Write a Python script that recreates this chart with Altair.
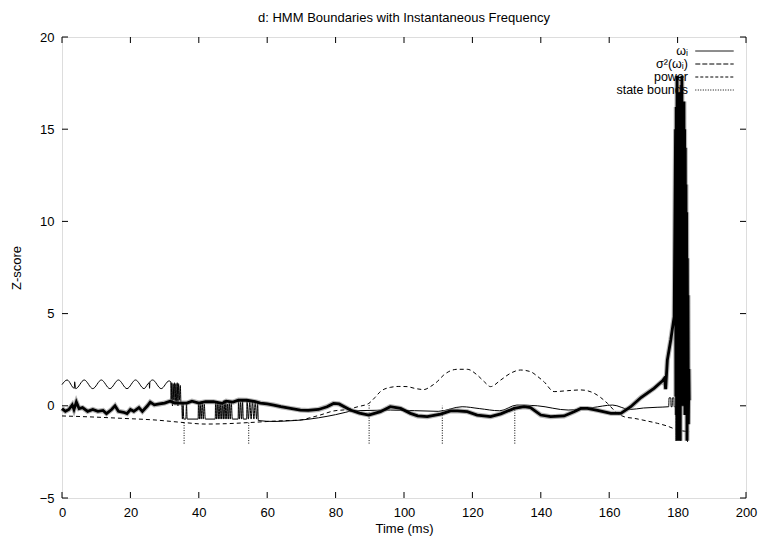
import altair as alt
import pandas as pd

# ---------------- data ----------------
# thick noisy curve, time in ms, z-score
band_t = [0, 1, 2, 3, 3.5, 4.2, 5, 6, 7.5, 9, 10.5, 12, 13, 14.5, 15.5, 16.5, 18, 19, 20, 21,
          22.5, 23.5, 25, 25.8, 27, 28.5, 30, 31.6, 33, 34.6, 36.5, 38, 40, 42, 44.3, 46.8, 48,
          50, 51.6, 54, 56.5, 58, 60, 61.9, 64, 66.8, 69.7, 72, 75, 77.5, 79.4, 81, 84.3, 87,
          89.7, 93.1, 96, 99, 101.9, 104, 106.8, 110.7, 113.6, 115.6, 118.5, 121.4, 125.3,
          128.3, 132.2, 135.1, 137, 138, 140, 142.9, 146.8, 149.7, 151.7, 153.6, 156.6, 160.5,
          163.4, 166.3, 169.3, 173.1, 175.6, 176.2, 176.5, 177, 178, 179,
          179.4, 179.5, 179.6, 179.7, 179.85, 179.95, 180.05, 180.15, 180.25, 180.35, 180.45,
          180.55, 180.65, 180.75, 180.85, 180.95, 181.05, 181.15, 181.25, 181.35, 181.45,
          181.55, 181.65, 181.75, 181.85, 181.95, 182.05, 182.15, 182.25, 182.35, 182.45,
          182.55, 182.65, 182.75, 182.85, 182.95, 183.05, 183.15, 183.3, 183.4]
band_v = [-0.15, -0.3, -0.2, 0.05, -0.2, 0.2, -0.15, -0.1, -0.3, -0.2, -0.3, -0.25, -0.42, -0.2,
          0.0, -0.3, -0.35, -0.42, -0.2, -0.3, -0.1, -0.3, 0.0, 0.2, 0.05, 0.1, 0.15, 0.25, 0.15,
          0.15, 0.15, 0.25, 0.15, 0.22, 0.22, 0.13, 0.25, 0.2, 0.31, 0.3, 0.22, 0.15, 0.1, 0.04,
          -0.05, -0.14, -0.23, -0.25, -0.2, -0.05, 0.13, 0.1, -0.23, -0.4, -0.5, -0.32, -0.05,
          -0.14, -0.41, -0.55, -0.59, -0.45, -0.28, -0.27, -0.32, -0.5, -0.59, -0.44, -0.14,
          -0.05, -0.1, -0.23, -0.5, -0.59, -0.55, -0.32, -0.14, -0.14, -0.25, -0.41, -0.41,
          -0.05, 0.45, 0.95, 1.35, 1.5, 0.9, 2.48, 3.57, 4.83,
          15.0, 0.5, 16.2, -0.5, 17.9, -1.9, 16.5, 1.0, 15.5, 0.0, 17.0, 3.0, 16.0, -1.9, 15.0,
          2.0, 16.8, 0.5, 17.9, 1.0, 16.0, 0.0, 15.5, 2.5, 16.5, 0.5, 15.0, -0.5, 14.0, 1.0,
          12.0, 0.0, 10.5, -1.9, 8.0, 0.5, 6.0, -1.0, 2.0, 0.3]

# thin solid curve (oscillation, then low line with switching spikes)
thin_t = [0, 1.5, 3.6, 3.7, 3.9, 4.0, 6.5, 9.0, 11.5, 14.0, 16.5, 19.0, 21.5, 24.0, 25.5, 25.6,
          25.7, 26.5, 29.0, 31.3, 31.8, 31.9, 32.1, 32.3, 32.5, 32.7, 32.9, 33.1, 33.3, 33.5,
          33.7, 33.9, 34.1, 34.3, 34.6, 34.8, 35.0, 35.2, 35.4, 35.6, 36.2, 36.4, 36.6,
          39.8, 39.9, 40.2, 40.4, 40.7, 41.0, 41.3, 41.6, 41.9,
          44.8, 44.9, 45.2, 45.4, 45.7, 45.9, 46.2, 46.4, 46.7, 46.9, 47.2, 47.4, 47.7, 47.9,
          48.2, 48.4, 48.7, 48.9, 49.2, 49.5, 49.8,
          51.5, 51.6, 51.9, 52.2, 52.5, 52.8, 53.0,
          54.0, 54.1, 54.5, 54.9, 55.3, 55.7, 56.1, 56.5, 56.9, 57.2, 57.4,
          62, 66, 70, 75, 80, 83, 85, 90, 96, 110, 117, 122, 128, 133, 139, 148, 155, 161, 166,
          170, 174, 177.4, 177.5, 178.0, 178.1, 178.4, 178.5, 178.9, 179.0, 179.4, 179.5, 179.6,
          180.8, 180.9, 181.0, 182.8, 182.9, 183.0]
thin_v = [1.15, 1.4, 0.95, 1.3, 1.0, 0.93, 1.4, 0.93, 1.4, 0.93, 1.4, 0.93, 1.4, 0.93, 1.25, 0.95,
          1.3, 1.4, 0.93, 1.35, 1.3, 0.2, 1.25, 0.0, 1.2, 0.3, 1.25, 0.1, 1.2, 0.2, 1.25, 0.0,
          1.2, 0.3, 1.1, 0.1, 0.2, -0.72, 0.15, -0.72, -0.72, 0.1, -0.72,
          -0.72, 0.2, -0.72, 0.15, -0.72, 0.2, -0.72, 0.1, -0.72,
          -0.72, 0.2, -0.72, 0.25, -0.72, 0.1, -0.72, 0.2, -0.72, 0.15, -0.72, 0.3, -0.72, 0.2,
          -0.72, 0.1, -0.72, 0.25, -0.72, 0.2, -0.72,
          -0.72, 0.3, -0.72, 0.2, -0.72, 0.25, -0.72,
          -0.72, 0.3, -0.72, 0.2, -0.72, 0.25, -0.72, 0.2, -0.72, 0.15, -0.8,
          -0.85, -0.82, -0.77, -0.65, -0.48, -0.35, -0.27, -0.25, -0.23, -0.3, -0.05, -0.15,
          -0.27, 0.04, 0.0, -0.23, -0.1, 0.04, -0.2, -0.12, -0.08, -0.05, 0.43, 0.43, -0.05,
          -0.05, 0.43, 0.43, -0.05, -0.05, -1.9, 0.0, 0.0, -1.9, 0.0, 0.0, -1.95, 0.0]

# power curve (short dashes)
power_t = [0, 8, 17.5, 27.2, 35.7, 41.9, 48, 54.6, 64.3, 69.7, 72.5, 75.5, 79.4, 83.4, 86.5,
           89.7, 91.5, 93.1, 96, 98.5, 100.9, 103, 105.8, 107.8, 109.7, 111.5, 113.6, 115.6,
           118.5, 121.4, 123.5, 125.3, 128.3, 131, 134.1, 137, 139, 140.9, 143.9, 147.8, 151.7,
           155.6, 157.5, 159.5, 162.4, 164.5, 167.3, 171, 174.1, 177, 180, 183.4]
power_v = [-0.55, -0.6, -0.68, -0.77, -0.91, -0.99, -0.97, -0.91, -0.81, -0.77, -0.65, -0.5,
           -0.28, -0.2, -0.05, 0.13, 0.45, 0.77, 1.0, 1.05, 1.04, 0.95, 0.88, 1.05, 1.31, 1.65,
           1.9, 1.98, 1.98, 1.67, 1.3, 1.04, 1.4, 1.75, 1.94, 1.85, 1.6, 1.31, 0.77, 0.82, 0.86,
           0.68, 0.45, 0.13, -0.41, -0.6, -0.68, -0.82, -0.95, -1.1, -1.31, -1.4]

# HMM state boundaries (dotted vertical segments)
bound_t = [35.7, 54.6, 89.8, 111.2, 132.4]
bound_top = [-0.93, -0.86, 0.13, 0.0, -0.1]
bound_bottom = [-2.05, -2.05, -2.05, -2.05, -2.05]

x_ticks = [0, 20, 40, 60, 80, 100, 120, 140, 160, 180, 200]
y_ticks = [-5, 0, 5, 10, 15, 20]
legend_names = ["ωᵢ", "σ²(ωᵢ)", "power", "state bounds"]

# ---------------- chart ----------------
W, H = 684, 461
FONT = "Liberation Sans"

band_df = pd.DataFrame({"t": band_t, "v": band_v})
thin_df = pd.DataFrame({"t": thin_t, "v": thin_v})
power_df = pd.DataFrame({"t": power_t, "v": power_v})
bound_df = pd.DataFrame({"t": bound_t, "top": bound_top, "bottom": bound_bottom})
xt_df = pd.DataFrame({"t": x_ticks})
yt_df = pd.DataFrame({"v": y_ticks})
leg_df = pd.DataFrame({"name": legend_names, "t": [x_ticks[0]] * 4, "v": [y_ticks[1]] * 4})

xs = alt.Scale(domain=[0, 200], nice=False, zero=False)
ys = alt.Scale(domain=[-5, 20], nice=False, zero=False)

x_enc = alt.X("t:Q", scale=xs, axis=alt.Axis(values=x_ticks, title="Time (ms)", grid=False,
              ticks=False, domain=False, labelPadding=8, titlePadding=3, labelFlush=False,
              labelFont=FONT, labelFontSize=13, titleFont=FONT, titleFontSize=13,
              titleFontWeight="normal", labelColor="black", titleColor="black"))
y_enc = alt.Y("v:Q", scale=ys, axis=alt.Axis(values=y_ticks, title="Z-score", grid=False,
              ticks=False, domain=False, labelPadding=8, titlePadding=16, labelFlush=False,
              labelFont=FONT, labelFontSize=13, titleFont=FONT, titleFontSize=13,
              titleFontWeight="normal", labelColor="black", titleColor="black"))

power = alt.Chart(power_df).mark_line(color="black", strokeWidth=1, strokeDash=[4, 3],
                                      interpolate="monotone").encode(
    x=x_enc, y=y_enc, order="t:Q")
bounds = alt.Chart(bound_df).mark_rule(color="black", strokeWidth=1, strokeDash=[1, 1.5]).encode(
    x="t:Q", y="bottom:Q", y2="top:Q")
thin = alt.Chart(thin_df).mark_line(color="black", strokeWidth=1, interpolate="monotone").encode(
    x="t:Q", y="v:Q", order="t:Q")
band_halo = alt.Chart(band_df).mark_line(color="#777777", strokeWidth=5, opacity=0.55).encode(
    x="t:Q", y="v:Q", order="t:Q")
band = alt.Chart(band_df).mark_line(color="black", strokeWidth=2.8).encode(
    x="t:Q", y="v:Q", order="t:Q")

tick_bottom = alt.Chart(xt_df).mark_rule(color="black").encode(
    x="t:Q", y=alt.value(H), y2=alt.value(H - 6))
tick_top = alt.Chart(xt_df).mark_rule(color="black").encode(
    x="t:Q", y=alt.value(0), y2=alt.value(6))
tick_left = alt.Chart(yt_df).mark_rule(color="black").encode(
    y="v:Q", x=alt.value(0), x2=alt.value(6))
tick_right = alt.Chart(yt_df).mark_rule(color="black").encode(
    y="v:Q", x=alt.value(W), x2=alt.value(W - 6))

SYM = 12  # legend symbol unit; the custom path below spans 3.2 units each side
legend_layer = alt.Chart(leg_df).mark_line(opacity=0).encode(
    x="t:Q", y="v:Q",
    strokeDash=alt.StrokeDash(
        "name:N",
        scale=alt.Scale(domain=legend_names, range=[[1, 0], [5, 2], [3, 2], [1, 1.5]]),
        legend=alt.Legend(
            title=None, orient="none", legendX=646, legendY=7.5,
            symbolType="M-3.2,0L3.2,0", symbolSize=SYM * SYM, symbolStrokeWidth=1,
            symbolStrokeColor="black", symbolOpacity=1, symbolFillColor="transparent",
            labelAlign="right", labelOffset={"expr": "-33"},
            labelFont=FONT, labelFontSize=12.5, rowPadding=0,
            labelColor="black", padding=0,
            labelLimit=300)))

chart = alt.layer(power, bounds, thin, band_halo, band,
                  tick_bottom, tick_top, tick_left, tick_right, legend_layer).properties(
    width=W, height=H,
    title=alt.TitleParams("d: HMM Boundaries with Instantaneous Frequency", font=FONT,
                          fontSize=13, fontWeight="normal", anchor="middle", offset=6,
                          color="black"),
    autosize=alt.AutoSizeParams(type="none"),
    padding={"left": 62, "top": 37, "right": 16, "bottom": 41},
).configure_view(stroke="black", strokeWidth=1).configure(background="white")

chart.save("out.html", embed_options={"renderer": "svg", "actions": False})
